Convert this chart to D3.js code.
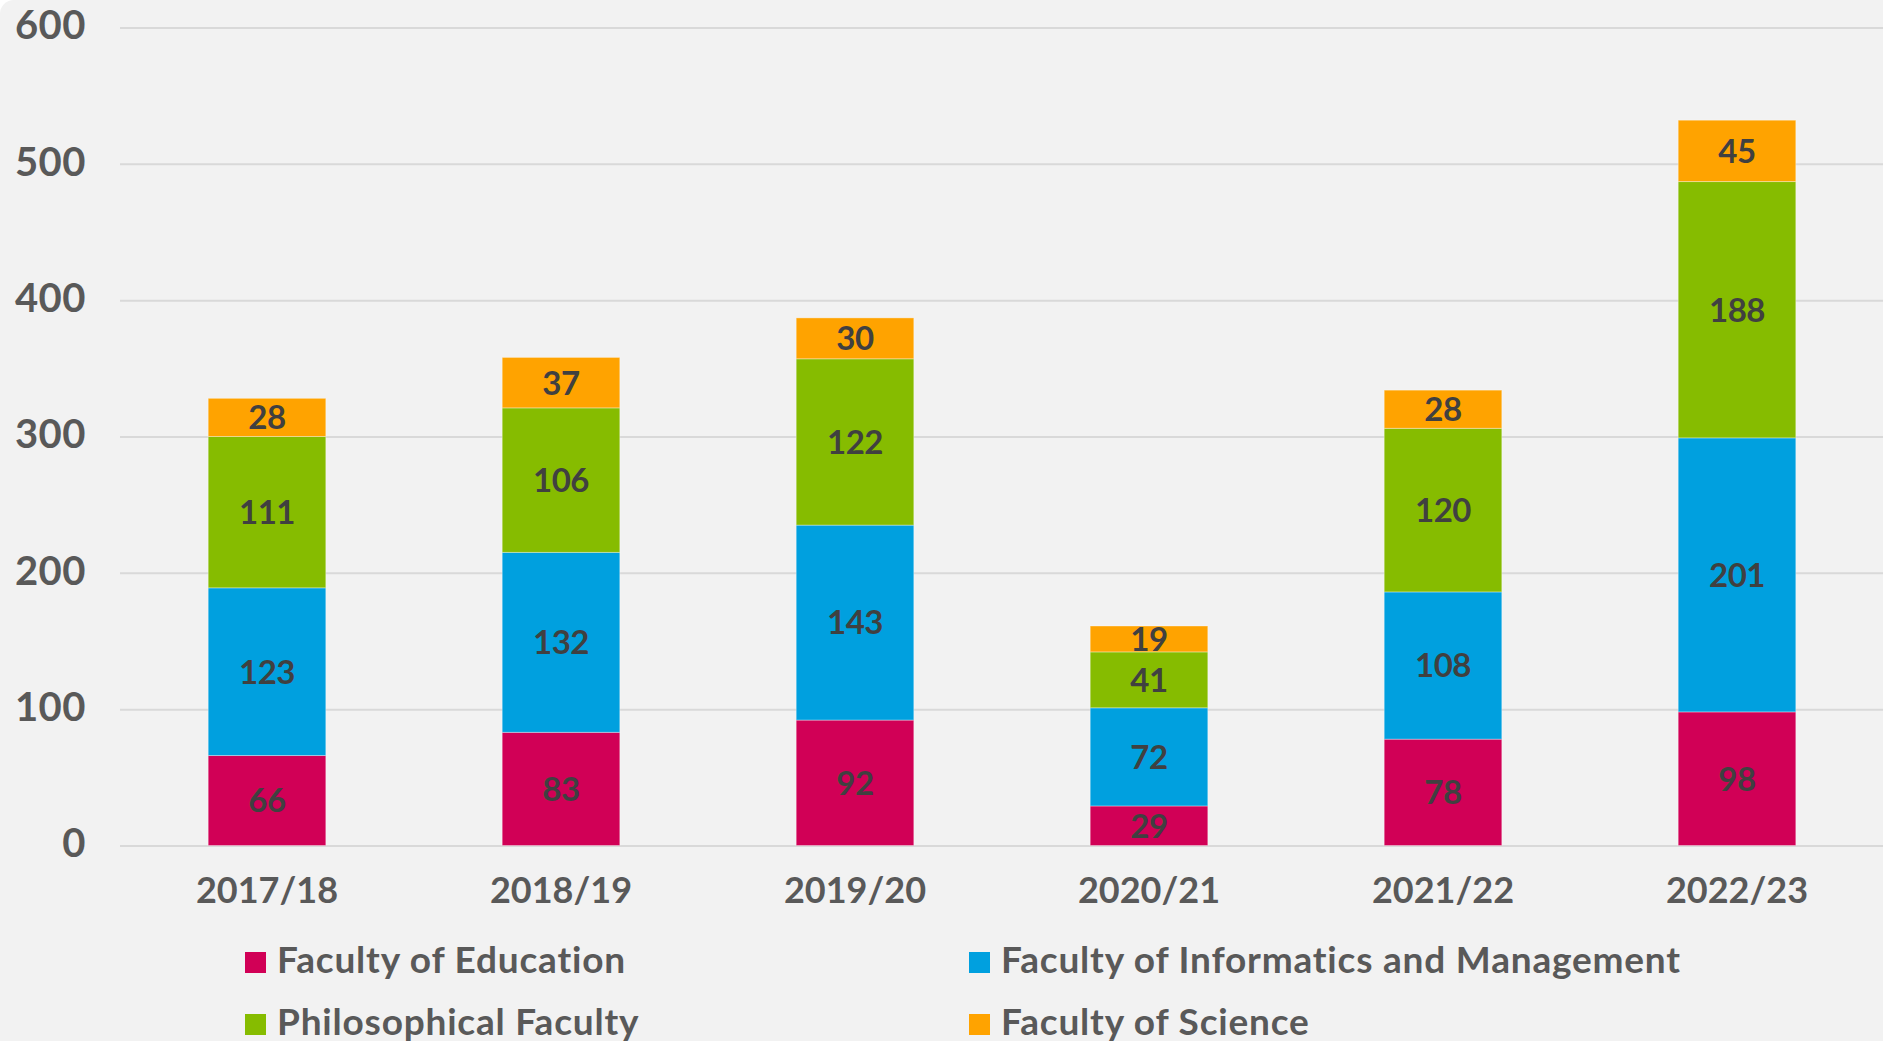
<!DOCTYPE html>
<html>
<head>
<meta charset="utf-8">
<script src="https://cdn.jsdelivr.net/npm/d3@7"></script>
<style>
  html, body { margin: 0; padding: 0; background: #ffffff; }
  #chart { width: 1883px; height: 1041px; background: #f2f2f2; border-top-left-radius: 14px; overflow: hidden; }
  svg { display: block; font-family: Lato, "Noto Sans", sans-serif; font-weight: 700; }
</style>
</head>
<body>
<div id="chart"><svg id="canvas" width="1883" height="1041"></svg></div>
<script>
// academic years on the x axis
const years = ["2017/18", "2018/19", "2019/20", "2020/21", "2021/22", "2022/23"];

// one array per faculty, bottom to top of each stack
const education   = [66, 83, 92, 29, 78, 98];
const informatics = [123, 132, 143, 72, 108, 201];
const philosophy  = [111, 106, 122, 41, 120, 188];
const science     = [28, 37, 30, 19, 28, 45];

const seriesNames = [
    "Faculty of Education",
    "Faculty of Informatics and Management",
    "Philosophical Faculty",
    "Faculty of Science"
];
const seriesKeys = ["edu", "fim", "phil", "sci"];
const seriesColors = ["#d10056", "#00a0df", "#86bc00", "#ffa300"];

const yTicks = [0, 100, 200, 300, 400, 500, 600];

// build rows for d3.stack
const rows = years.map((y, i) => ({
    year: y,
    edu: education[i],
    fim: informatics[i],
    phil: philosophy[i],
    sci: science[i]
}));

const svg = d3.select("#canvas");

const x = d3.scaleBand()
    .domain(years)
    .range([120, 1884])
    .paddingInner(0.6)
    .paddingOuter(0.3);

const y = d3.scaleLinear()
    .domain([0, 600])
    .range([845.5, 27.5]);

const color = d3.scaleOrdinal().domain(seriesKeys).range(seriesColors);

// gridlines + y labels
const yAxis = svg.append("g")
    .attr("transform", "translate(1883,0)")
    .call(d3.axisLeft(y).tickValues(yTicks).tickSize(1763).tickPadding(34));
yAxis.select(".domain").remove();
yAxis.selectAll(".tick line").attr("stroke", "#d9d9d9").attr("stroke-width", 2);
yAxis.selectAll(".tick text")
    .attr("fill", "#595959")
    .attr("font-size", 40)
    .attr("font-family", "Lato, sans-serif")
    .attr("font-weight", 700)
    .attr("letter-spacing", 0.5)
    .attr("dy", "0.28em");

// stacked bars
const stacked = d3.stack().keys(seriesKeys)(rows);

const layers = svg.append("g").selectAll("g")
    .data(stacked)
    .join("g")
    .attr("fill", d => color(d.key));

layers.selectAll("rect")
    .data(d => d)
    .join("rect")
    .attr("x", d => x(d.data.year))
    .attr("width", x.bandwidth())
    .attr("y", d => y(d[1]))
    .attr("height", d => y(d[0]) - y(d[1]))
    .attr("stroke", "rgba(255,255,255,0.35)")
    .attr("stroke-width", 1);

// value labels in the middle of each segment
layers.selectAll("text")
    .data(d => d)
    .join("text")
    .attr("x", d => x(d.data.year) + x.bandwidth() / 2)
    .attr("y", d => y((d[0] + d[1]) / 2))
    .attr("dy", "0.36em")
    .attr("text-anchor", "middle")
    .attr("fill", "#404040")
    .attr("font-size", 33)
    .attr("letter-spacing", -0.5)
    .text(d => d[1] - d[0]);

// x axis labels
const xAxis = svg.append("g")
    .attr("transform", "translate(0,845.5)")
    .call(d3.axisBottom(x).tickSize(0).tickPadding(0));
xAxis.select(".domain").remove();
xAxis.selectAll(".tick text")
    .attr("fill", "#595959")
    .attr("font-size", 36)
    .attr("font-family", "Lato, sans-serif")
    .attr("font-weight", 700)
    .attr("y", 57.5)
    .attr("dy", 0);

// legend, two columns by two rows (second row runs off the bottom like the original)
const legendPos = [[245, 952], [969, 952], [245, 1014], [969, 1014]];
const legend = svg.append("g").selectAll("g")
    .data(seriesNames)
    .join("g")
    .attr("transform", (d, i) => `translate(${legendPos[i][0]},${legendPos[i][1]})`);

legend.append("rect")
    .attr("width", 21)
    .attr("height", 21)
    .attr("fill", (d, i) => seriesColors[i]);

legend.append("text")
    .attr("x", 32)
    .attr("y", 21)
    .attr("fill", "#595959")
    .attr("font-size", 37)
    .attr("letter-spacing", 0.8)
    .text(d => d);
</script>
</body>
</html>
